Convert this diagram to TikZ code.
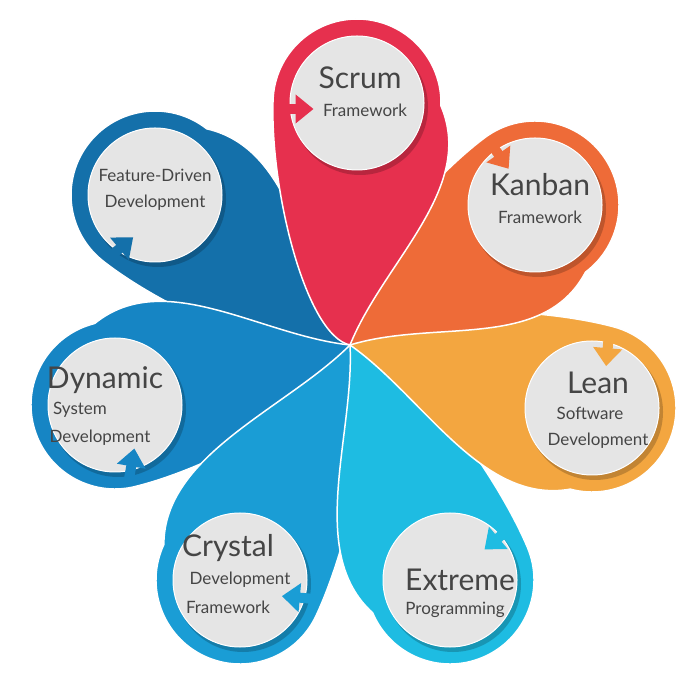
\documentclass[tikz,border=0pt]{standalone}
\usepackage{fontspec}
\setmainfont{Lato}
\usetikzlibrary{calc,arrows.meta}
\definecolor{cScrum}{HTML}{E6304E}
\definecolor{cKanban}{HTML}{EE6B38}
\definecolor{cLean}{HTML}{F3A640}
\definecolor{cExtreme}{HTML}{1EBCE2}
\definecolor{cCrystal}{HTML}{1A9DD5}
\definecolor{cDynamic}{HTML}{1685C4}
\definecolor{cFeature}{HTML}{1470AA}
\definecolor{txt}{HTML}{454545}
\tikzset{
 disc/.style={circle,fill=black!10,minimum size=134pt,inner sep=0pt,draw=white,line width=1pt},
 big/.style={font=\fontsize{30}{33}\selectfont,text=txt},
 small/.style={font=\fontsize{17}{20}\selectfont,text=txt},
 marker/.style={line width=10pt,-{Triangle[length=18pt,width=28pt]}}
}
\newcommand{\petal}[3]{%
 \fill[#3,draw=white,line width=1.5pt] ($(#1)+(#2-90:84)$) arc[start angle=#2-90,end angle=#2+90,radius=84pt]
  .. controls +(#2+180:90) and ($(O)+(#2+80:45)$) .. (O)
  .. controls ($(O)+(#2-20:90)$) and ($(#1)+(#2-90:84)+(#2+205:90)$) .. cycle;}
\begin{document}
\begin{tikzpicture}[x=1pt,y=1pt]
\useasboundingbox (0,0) rectangle (700,687);
\coordinate (O) at (350,342);
\coordinate (S) at (357,584);
\coordinate (K) at (535,482);
\coordinate (L) at (592,279);
\coordinate (E) at (450,107);
\coordinate (C) at (240,107);
\coordinate (D) at (115,282);
\coordinate (F) at (155,492);
\petal{F}{142}{cFeature}
\petal{D}{-166}{cDynamic}
\petal{C}{-115}{cCrystal}
\petal{E}{-67}{cExtreme}
\petal{L}{-15}{cLean}
\petal{K}{37}{cKanban}
\petal{S}{88}{cScrum}
\foreach \p in {S,K,L,E,C,D,F}{
 \fill[black,opacity=0.2] ($(\p)+(3,-4)$) circle (68);
 \node[disc] (n\p) at (\p) {};}
\node[big] (tS) at (360,609) {Scrum};
\node[small] (sS) at (365,577) {Framework};
\node[big] (tK) at (540,502) {Kanban};
\node[small] (sK) at (540,470) {Framework};
\node[big] (tL) at (598,304) {Lean};
\node[small] (sL) at (590,274) {Software};
\node[small] (dL) at (598,246) {Development};
\node[big] (tE) at (460,107) {Extreme};
\node[small] (sE) at (455,77) {Programming};
\node[big] (tC) at (228,139) {Crystal};
\node[small] (sC) at (240,107) {Development};
\node[small] (fC) at (228,80) {Framework};
\node[big] (tD) at (105,307) {Dynamic};
\node[small] (sD) at (80,277) {System};
\node[small] (dD) at (100,249) {Development};
\node[small] (tF) at (155,512) {Feature-Driven};
\node[small] (dF) at (155,484) {Development};
\draw[marker,cScrum] ($(nS.west)+(-10,-6)$) -- ++(34,0);
\draw[marker,cKanban] ($(nK)+(125:66)+(-8,10)$) -- ++(-55:34);
\draw[marker,cLean] ($(nL)+(75:66)+(0,12)$) -- ++(-95:34);
\draw[marker,cExtreme] ($(nE)+(40:66)+(10,10)$) -- ++(-140:34);
\draw[marker,cCrystal] ($(nC)+(-15:66)+(12,-2)$) -- ++(175:34);
\draw[marker,cDynamic] ($(nD)+(-80:66)+(2,-12)$) -- ++(80:34);
\draw[marker,cFeature] ($(nF)+(-125:66)+(-10,-10)$) -- ++(40:34);
\end{tikzpicture}
\end{document}
